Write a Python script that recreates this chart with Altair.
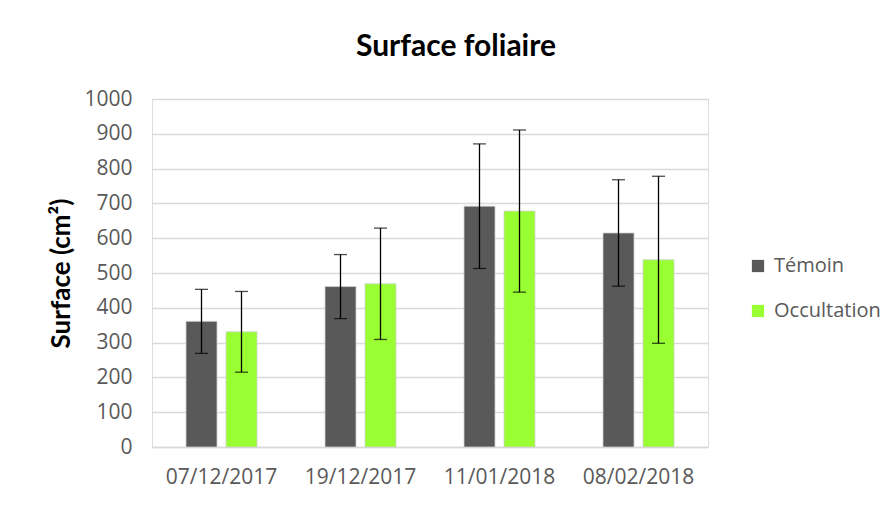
import altair as alt
import pandas as pd

dates = ["07/12/2017", "19/12/2017", "11/01/2018", "08/02/2018"]
series = ["Témoin", "Occultation"]
temoin = [361, 461, 692, 615]
temoin_err = [92, 92, 179, 153]
occult = [331, 469, 678, 538]
occult_err = [116, 160, 233, 240]
colors = ["#595959", "#99ff33"]
y_ticks = list(range(0, 1001, 100))

rows = []
for i, d in enumerate(dates):
    rows.append({"date": d, "serie": "Témoin", "val": temoin[i],
                 "lo": temoin[i] - temoin_err[i], "hi": temoin[i] + temoin_err[i]})
    rows.append({"date": d, "serie": "Occultation", "val": occult[i],
                 "lo": occult[i] - occult_err[i], "hi": occult[i] + occult_err[i]})
df = pd.DataFrame(rows)

x = alt.X("date:N", sort=dates, title=None,
          scale=alt.Scale(paddingInner=0, paddingOuter=0),
          axis=alt.Axis(labelAngle=0, ticks=False, domainColor="#d9d9d9",
                        domainWidth=1.5, labelColor="#595959", labelFont="Open Sans",
                        labelFontSize=21, labelPadding=19))
xo = alt.XOffset("serie:N", sort=series,
                 scale=alt.Scale(paddingInner=0.225, paddingOuter=0.85))

yaxis = alt.Axis(values=y_ticks, format="d", labelOverlap=False, ticks=False,
                 domain=False, gridColor="#d9d9d9", gridWidth=1.5,
                 labelColor="#595959", labelFont="Open Sans", labelFontSize=21,
                 labelPadding=20, titleFont="Lato", titleFontSize=26,
                 titleFontWeight="bold", titleColor="#000000",
                 titleX=-91, titleBaseline="middle")
yscale = alt.Scale(domain=[0, 1000])

base = alt.Chart(df).encode(x=x, xOffset=xo)

bars = base.mark_bar(stroke="#d0d0d0", strokeWidth=0.8).encode(
    y=alt.Y("val:Q", title="Surface (cm²)", scale=yscale, axis=yaxis),
    color=alt.Color("serie:N", sort=series, title=None,
                    scale=alt.Scale(domain=series, range=colors),
                    legend=alt.Legend(orient="none", legendX=596, legendY=157,
                                      symbolType="square", symbolSize=150,
                                      symbolStrokeWidth=0, labelFont="Open Sans",
                                      labelFontSize=20, labelColor="#595959",
                                      rowPadding=25, labelOffset=6)),
)

rules = base.mark_rule(color="#000000", strokeWidth=1.3).encode(
    y=alt.Y("lo:Q", title="Surface (cm²)", scale=yscale, axis=yaxis), y2="hi:Q")
caps_hi = base.mark_tick(color="#000000", thickness=1.3, size=13).encode(
    y=alt.Y("hi:Q", title="Surface (cm²)", scale=yscale, axis=yaxis))
caps_lo = base.mark_tick(color="#000000", thickness=1.3, size=13).encode(
    y=alt.Y("lo:Q", title="Surface (cm²)", scale=yscale, axis=yaxis))

chart = alt.layer(bars, rules, caps_hi, caps_lo).properties(
    width=556, height=348,
    title=alt.TitleParams("Surface foliaire", font="Lato", fontSize=30,
                          fontWeight="bold", color="#000000", dx=26, offset=26),
    autosize=alt.AutoSizeParams(type="none"),
    padding={"left": 144, "top": 91, "right": 179, "bottom": 50},
).configure_view(stroke=None).configure(background="#ffffff")

chart.save("out.html", embed_options={"renderer": "svg", "actions": False})
